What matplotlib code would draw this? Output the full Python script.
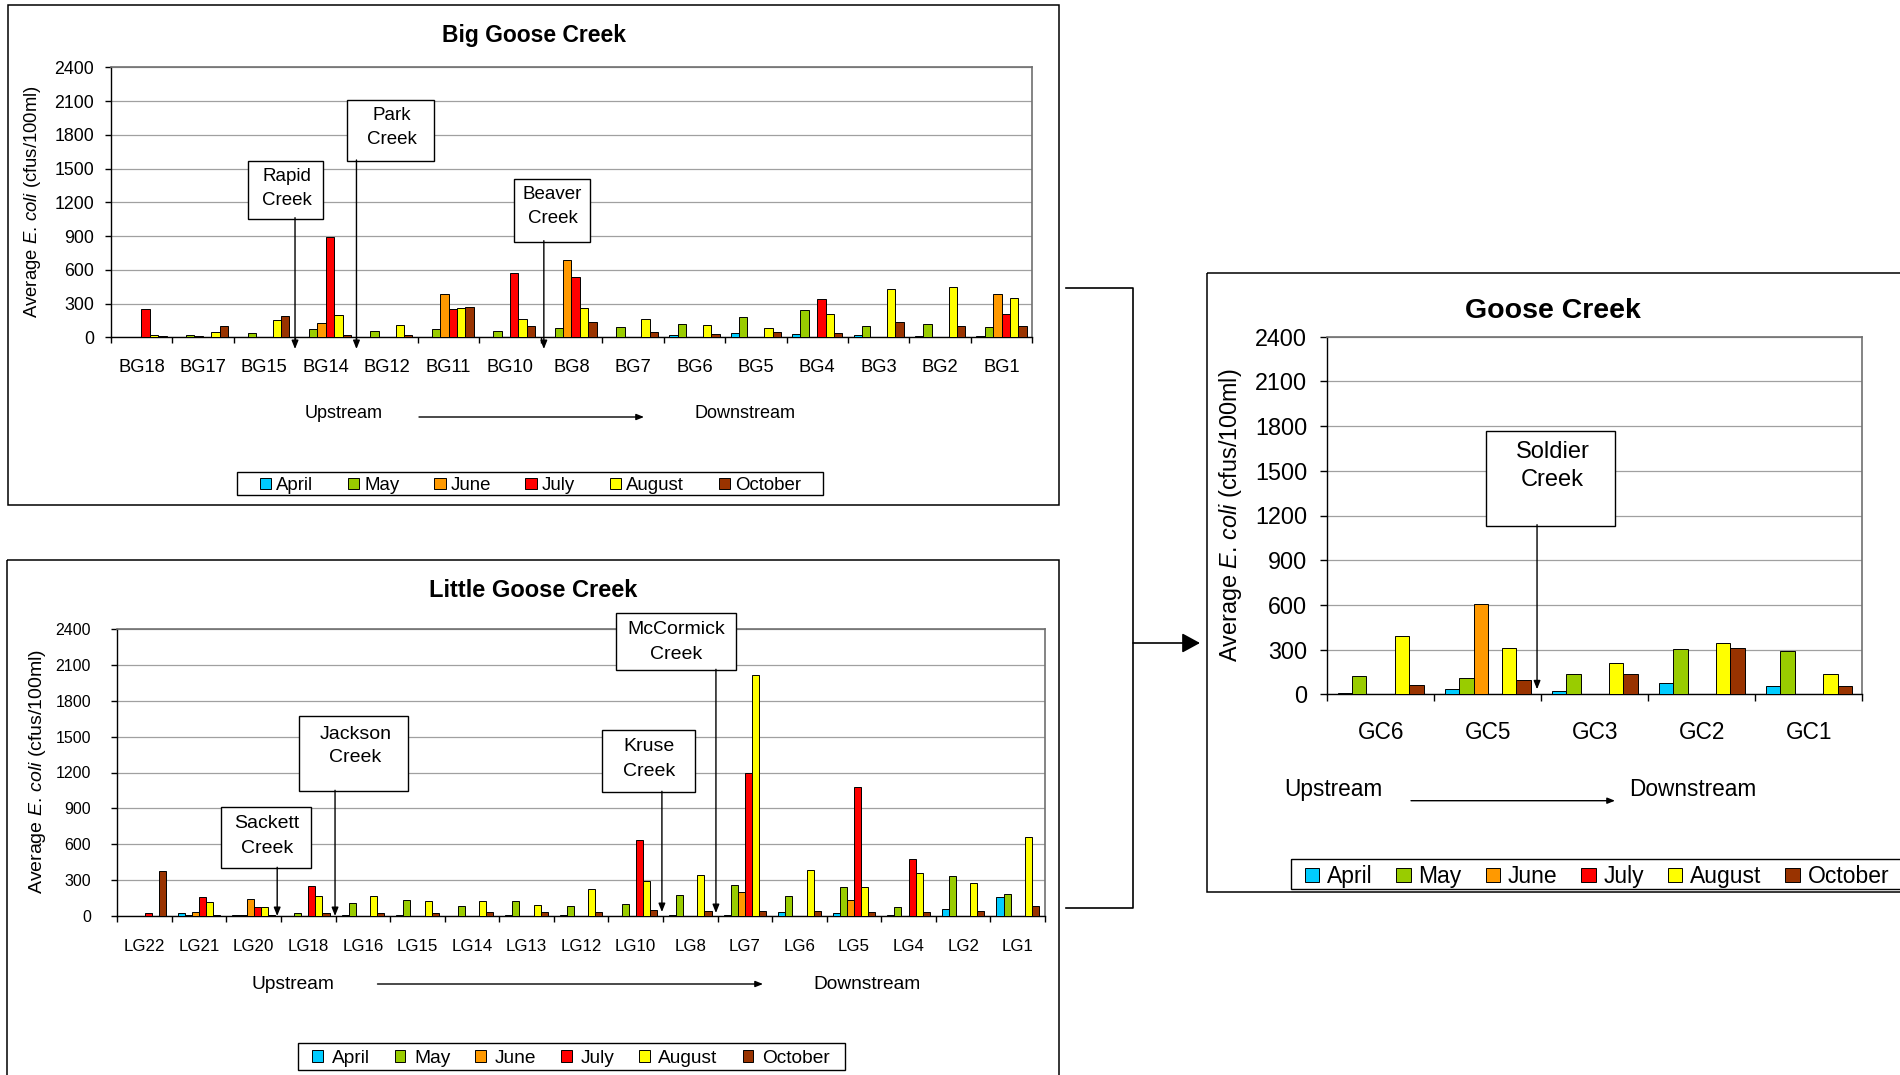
import numpy as np
import matplotlib
matplotlib.use('Agg')
from matplotlib import pyplot as plt
from matplotlib.patches import Rectangle, FancyArrowPatch, ArrowStyle
from matplotlib.lines import Line2D
from matplotlib.transforms import Affine2D, blended_transform_factory

plt.rcParams['font.family'] = ['Liberation Sans', 'DejaVu Sans']
plt.rcParams['mathtext.fontset'] = 'custom'
plt.rcParams['mathtext.rm'] = 'Liberation Sans'
plt.rcParams['mathtext.it'] = 'Liberation Sans:italic'

#%% DATA

months = ['April', 'May', 'June', 'July', 'August', 'October']
colours = ['#00CCFF', '#99CC00', '#FF9900', '#FF0000', '#FFFF00', '#993300']

bg_sites = ['BG18', 'BG17', 'BG15', 'BG14', 'BG12', 'BG11', 'BG10', 'BG8',
            'BG7', 'BG6', 'BG5', 'BG4', 'BG3', 'BG2', 'BG1']
bg_april = [0, 0, 0, 6, 0, 0, 0, 6, 6, 18, 36, 27, 18, 9, 9]
bg_may = [0, 21, 36, 71, 59, 71, 59, 80, 89, 121, 178, 240, 101, 121, 92]
bg_june = [0, 8, 0, 124, 0, 388, 0, 687, 0, 0, 0, 0, 0, 0, 388]
bg_july = [252, 0, 0, 889, 0, 252, 572, 536, 0, 0, 0, 338, 0, 0, 207]
bg_august = [21, 47, 154, 196, 113, 264, 166, 264, 166, 113, 80, 207, 433, 444, 347]
bg_october = [12, 100, 187, 18, 18, 273, 104, 133, 47, 27, 47, 36, 133, 101, 101]

lg_sites = ['LG22', 'LG21', 'LG20', 'LG18', 'LG16', 'LG15', 'LG14', 'LG13', 'LG12',
            'LG10', 'LG8', 'LG7', 'LG6', 'LG5', 'LG4', 'LG2', 'LG1']
lg_april = [0, 20, 5, 0, 5, 5, 0, 5, 5, 0, 5, 8, 28, 20, 5, 59, 154]
lg_may = [0, 6, 5, 20, 103, 131, 81, 123, 81, 101, 173, 257, 165, 237, 70, 330, 184]
lg_june = [0, 28, 142, 0, 0, 0, 0, 0, 0, 0, 0, 196, 0, 131, 0, 0, 0]
lg_july = [20, 154, 70, 249, 0, 0, 0, 0, 0, 634, 0, 1196, 0, 1081, 478, 0, 0]
lg_august = [0, 112, 70, 165, 165, 123, 123, 92, 226, 288, 341, 2020, 383, 237, 360, 277, 662]
lg_october = [372, 8, 8, 20, 20, 20, 28, 28, 28, 47, 39, 39, 39, 28, 28, 39, 81]

gc_sites = ['GC6', 'GC5', 'GC3', 'GC2', 'GC1']
gc_april = [11, 34, 22, 74, 54]
gc_may = [123, 112, 134, 304, 293]
gc_june = [0, 604, 0, 0, 0]
gc_july = [0, 0, 0, 0, 0]
gc_august = [391, 313, 212, 342, 134]
gc_october = [63, 94, 134, 313, 54]

# tributaries: where they join (position between two stations)
bg_tribs = [(['Rapid', 'Creek'], 2.5), (['Park', 'Creek'], 3.5), (['Beaver', 'Creek'], 6.55)]
lg_tribs = [(['Sackett', 'Creek'], 2.43), (['Jackson', 'Creek'], 3.49),
            (['Kruse', 'Creek'], 9.48), (['McCormick', 'Creek'], 10.47)]
gc_tribs = [(['Soldier', 'Creek'], 1.46)]

#%% FIGURE

W, H = 1900, 1075
fig = plt.figure(figsize=(W / 100, H / 100), dpi=100)
PX = Affine2D().scale(1 / W, -1 / H).translate(0, 1) + fig.transFigure


def label(x, y, s, size, weight='normal', tr=None):
    # y = middle of the capitals, in pixels from the top
    fig.text(x, y + 0.358 * size * 100 / 72, s, transform=tr or PX, fontsize=size,
             weight=weight, ha='center', va='baseline', zorder=7)


def make_axes(left, top, right, bottom):
    return fig.add_axes([left / W, 1 - bottom / H, (right - left) / W, (bottom - top) / H])


def draw_creek(ax, sites, series, group, xfs, yfs, xpad, ypad, ylen):
    n = len(sites)
    x = np.arange(n)
    w = group / len(series)
    for i, vals in enumerate(series):
        ax.bar(x + (i - 2.5) * w, vals, w, color=colours[i], edgecolor='black',
               linewidth=0.7, zorder=3)
    ax.set_xlim(-0.5, n - 0.5)
    ax.set_ylim(0, 2400)
    ax.set_yticks(np.arange(0, 2401, 300))
    ax.grid(axis='y', color='#A0A0A0', linewidth=0.9)
    ax.set_axisbelow(True)
    ax.set_xticks(np.arange(n + 1) - 0.5)
    ax.set_xticklabels([])
    ax.set_xticks(x, sites, minor=True)
    ax.tick_params(axis='x', which='major', direction='out', length=ylen, width=1)
    ax.tick_params(axis='x', which='minor', length=0, pad=xpad, labelsize=xfs)
    ax.tick_params(axis='y', direction='out', length=ylen, width=1, pad=ypad, labelsize=yfs)
    for s in ['left', 'bottom']:
        ax.spines[s].set_color('black')
        ax.spines[s].set_linewidth(1.0)
    for s in ['top', 'right']:
        ax.spines[s].set_color('#707070')
        ax.spines[s].set_linewidth(1.2)


small_head = ArrowStyle('-|>', head_length=1.0, head_width=0.4)


def callout(ax, lines, xd, box, line_y, text_x, tip_y, size):
    x0, y0, x1, y1 = box
    fig.add_artist(Rectangle((x0, y0), x1 - x0, y1 - y0, transform=PX, fc='white',
                             ec='black', lw=1.0, zorder=5))
    for s, ly in zip(lines, line_y):
        label(text_x, ly, s, size)
    tr = blended_transform_factory(ax.transData, PX)
    fig.add_artist(FancyArrowPatch((xd, y1 - 1), (xd, tip_y), transform=tr, arrowstyle=small_head,
                                   mutation_scale=5, lw=1.0, color='black',
                                   shrinkA=0, shrinkB=0, zorder=6))


def up_down(x_up, x0, x1, x_down, y_text, y_arrow, size):
    label(x_up, y_text, 'Upstream', size)
    label(x_down, y_text, 'Downstream', size)
    fig.add_artist(FancyArrowPatch((x0, y_arrow), (x1, y_arrow), transform=PX, arrowstyle=small_head,
                                   mutation_scale=4.5, lw=1.0, color='black', shrinkA=0, shrinkB=0))


def legend_box(cx, cy, box, size, hl, hh, tp, cs):
    handles = [Rectangle((0, 0), 1, 1, fc=c, ec='black', lw=0.7) for c in colours]
    fig.legend(handles, months, loc='center', bbox_to_anchor=(cx / W, 1 - cy / H), ncol=6,
               frameon=False, fontsize=size, handlelength=hl, handleheight=hh,
               handletextpad=tp, columnspacing=cs, borderpad=0, borderaxespad=0)
    x0, y0, x1, y1 = box
    fig.add_artist(Rectangle((x0, y0), x1 - x0, y1 - y0, transform=PX, fc='none',
                             ec='black', lw=1.0, zorder=4))


ylab = r'Average $\mathit{E.\,coli}$ (cfus/100ml)'

# panel frames
for x0, y0, x1, y1 in [(8, 5, 1059, 505), (7, 560, 1059, 1090), (1207, 273, 1915, 892)]:
    fig.add_artist(Rectangle((x0, y0), x1 - x0, y1 - y0, transform=PX, fill=False,
                             ec='black', lw=1.1, zorder=1))

#%% BIG GOOSE CREEK
ax1 = make_axes(110.7, 67.3, 1032.3, 337.3)
draw_creek(ax1, bg_sites, [bg_april, bg_may, bg_june, bg_july, bg_august, bg_october],
           0.82, 13.2, 12.8, 15.5, 7.5, 4.3)
label(534, 33.5, 'Big Goose Creek', 16.5, weight='bold')
fig.text(33, 201.7, ylab, transform=PX, fontsize=13.3, rotation=90, ha='center', va='center')
up_down(344, 419, 644, 745, 411.7, 417, 13)
legend_box(530.4, 485.5, (237, 471.7, 823, 495), 13.4, 0.62, 0.58, 0.27, 1.85)
bg_boxes = [((248.3, 161, 323.3, 218.7), (174, 198), 286.7),
            ((346.7, 99.7, 433.7, 161), (113, 137), 391.7),
            ((514, 179, 590, 241.7), (192, 216), 552.6)]
for (lines, xd), (box, ly, tx) in zip(bg_tribs, bg_boxes):
    callout(ax1, lines, xd, box, ly, tx, 349, 13.5)

#%% LITTLE GOOSE CREEK
ax2 = make_axes(117.3, 629.3, 1045, 915.7)
draw_creek(ax2, lg_sites, [lg_april, lg_may, lg_june, lg_july, lg_august, lg_october],
           0.78, 12.2, 11.5, 16.9, 15, 4.0)
label(533, 589, 'Little Goose Creek', 17, weight='bold')
fig.text(37.7, 771.5, ylab, transform=PX, fontsize=14, rotation=90, ha='center', va='center')
up_down(292.5, 377.5, 763, 867, 982, 984, 13.8)
legend_box(571, 1058.5, (297.6, 1043, 845, 1070), 13.8, 0.56, 0.56, 0.45, 1.3)
lg_boxes = [((221.3, 807.3, 311.3, 868.3), (821, 846), 267),
            ((299.3, 716.3, 408.3, 791.3), (731.7, 755), 355.3),
            ((602.2, 730, 694.8, 792.3), (744.3, 769), 649.2),
            ((615.7, 613, 735.7, 670.3), (627.3, 652.3), 676.2)]
lg_tips = [916, 916, 912, 913]
for (lines, xd), (box, ly, tx), tip in zip(lg_tribs, lg_boxes, lg_tips):
    callout(ax2, lines, xd, box, ly, tx, tip, 14)

#%% GOOSE CREEK
ax3 = make_axes(1327.2, 336.7, 1862.5, 694.3)
draw_creek(ax3, gc_sites, [gc_april, gc_may, gc_june, gc_july, gc_august, gc_october],
           0.80, 16.3, 16.8, 18.9, 9.7, 4.7)
label(1553, 308, 'Goose Creek', 20.5, weight='bold')
fig.text(1231, 515, ylab, transform=PX, fontsize=16.8, rotation=90, ha='center', va='center')
up_down(1333, 1411, 1615, 1693, 787.5, 800.7, 16.3)
legend_box(1596.8, 876.5, (1290.6, 859, 1915, 889), 16.5, 0.63, 0.58, 0.33, 1.05)
for lines, xd in gc_tribs:
    callout(ax3, lines, xd, (1485.7, 431.3, 1615, 525.7), (449.3, 477.7), 1552.7, 689.3, 17)

#%% CONNECTORS
fig.add_artist(Line2D([1066, 1133, 1133, 1066], [288, 288, 908, 908], transform=PX,
                      color='black', lw=1.2))
fig.add_artist(FancyArrowPatch((1133, 643), (1200, 643), transform=PX,
                               arrowstyle=ArrowStyle('-|>', head_length=1.1, head_width=0.6),
                               mutation_scale=10, lw=1.2, color='black', shrinkA=0, shrinkB=0))

fig.savefig('out.png', dpi=100)
